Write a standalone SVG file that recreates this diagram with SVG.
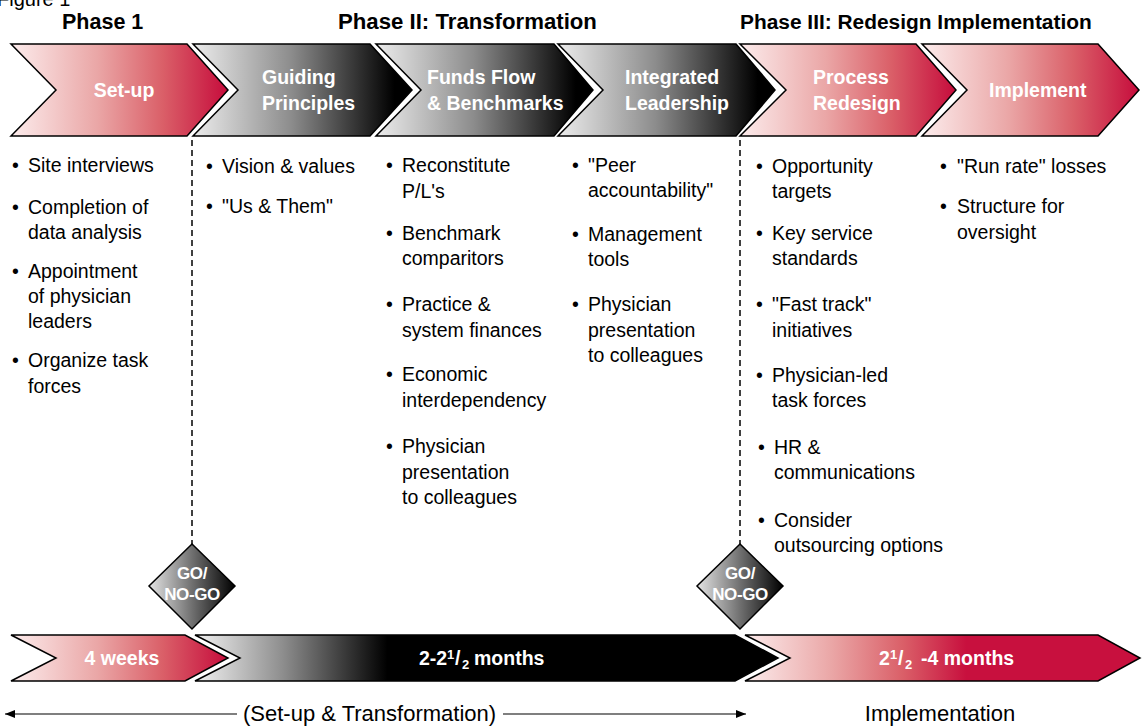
<svg xmlns="http://www.w3.org/2000/svg" width="1147" height="726" viewBox="0 0 1147 726">
  <defs>
    <linearGradient id="redFade" x1="0" y1="0" x2="1" y2="0">
      <stop offset="0" stop-color="#fcecec"/>
      <stop offset="0.4" stop-color="#eaa6a6"/>
      <stop offset="0.7" stop-color="#da5f68"/>
      <stop offset="1" stop-color="#c60c3c"/>
    </linearGradient>
    <linearGradient id="greyFade" x1="0" y1="0" x2="1" y2="0">
      <stop offset="0" stop-color="#ececec"/>
      <stop offset="0.45" stop-color="#8c8c8c"/>
      <stop offset="0.92" stop-color="#000"/>
      <stop offset="1" stop-color="#000"/>
    </linearGradient>
    <linearGradient id="diamondFade" x1="0" y1="0" x2="1" y2="0">
      <stop offset="0" stop-color="#e4e4e4"/>
      <stop offset="0.5" stop-color="#707070"/>
      <stop offset="1" stop-color="#000"/>
    </linearGradient>
    <linearGradient id="barGrey" x1="0" y1="0" x2="1" y2="0">
      <stop offset="0" stop-color="#f2f2f2"/>
      <stop offset="0.15" stop-color="#8e8e8e"/>
      <stop offset="0.33" stop-color="#000"/>
      <stop offset="1" stop-color="#000"/>
    </linearGradient>
    <linearGradient id="barRed" x1="0" y1="0" x2="1" y2="0">
      <stop offset="0" stop-color="#fcecec"/>
      <stop offset="0.22" stop-color="#eaa6a6"/>
      <stop offset="0.4" stop-color="#da5f68"/>
      <stop offset="0.56" stop-color="#c8103e"/>
      <stop offset="1" stop-color="#c8103e"/>
    </linearGradient>
    <marker id="arrowHead" viewBox="0 0 10 8" refX="10" refY="4" markerWidth="10" markerHeight="8" markerUnits="userSpaceOnUse" orient="auto-start-reverse">
      <path d="M0,0 L10,4 L0,8 Z" fill="#000"/>
    </marker>
    <style>
      .shape { stroke: #000; stroke-width: 1.5; stroke-linejoin: miter; }
      .head { font-family: "Liberation Sans", Arial, sans-serif; font-weight: bold; font-size: 21.5px; fill: #000; }
      .lbl { font-family: "Liberation Sans", Arial, sans-serif; font-weight: bold; font-size: 19.5px; fill: #fff; }
      .gate { font-family: "Liberation Sans", Arial, sans-serif; font-weight: bold; font-size: 17px; letter-spacing: -0.4px; fill: #fff; text-anchor: middle; }
      .item { font-family: "Liberation Sans", Arial, sans-serif; font-size: 19.5px; fill: #000; }
      .foot { font-family: "Liberation Sans", Arial, sans-serif; font-size: 22px; fill: #000; }
      .frac { font-size: 13px; }
      .dash { stroke: #000; stroke-width: 1.5; stroke-dasharray: 6 4; fill: none; }
      .rule { stroke: #000; stroke-width: 1.2; fill: none; }
    </style>
  </defs>

  <rect width="1147" height="726" fill="#fff"/>

  <!-- caption, clipped by the top edge -->
  <text class="foot" x="-3" y="6" style="font-size:20px">Figure 1</text>

  <!-- phase headings -->
  <g id="headings">
    <text class="head" x="62" y="29">Phase 1</text>
    <text class="head" x="338" y="29" style="font-size:22.2px">Phase II: Transformation</text>
    <text class="head" x="740" y="29" style="font-size:20.9px">Phase III: Redesign Implementation</text>
  </g>

  <!-- step chevrons -->
  <g id="step-setup">
    <polygon class="shape" fill="url(#redFade)" points="11,44 187,44 228,90 187,136 11,136 56,90"/>
    <text class="lbl" x="124" y="97" text-anchor="middle">Set-up</text>
  </g>
  <g id="step-principles">
    <polygon class="shape" fill="url(#greyFade)" points="193,44 370,44 412,90 370,136 193,136 238,90"/>
    <text class="lbl" x="262" y="84">Guiding</text>
    <text class="lbl" x="262" y="110">Principles</text>
  </g>
  <g id="step-funds">
    <polygon class="shape" fill="url(#greyFade)" points="376,44 554,44 593,90 554,136 376,136 421,90"/>
    <text class="lbl" x="427" y="84">Funds Flow</text>
    <text class="lbl" x="427" y="110">&amp; Benchmarks</text>
  </g>
  <g id="step-leadership">
    <polygon class="shape" fill="url(#greyFade)" points="558,44 736,44 775,90 736,136 558,136 603,90"/>
    <text class="lbl" x="625" y="84">Integrated</text>
    <text class="lbl" x="625" y="110">Leadership</text>
  </g>
  <g id="step-redesign">
    <polygon class="shape" fill="url(#redFade)" points="740,44 916,44 956,90 916,136 740,136 786,90"/>
    <text class="lbl" x="813" y="84">Process</text>
    <text class="lbl" x="813" y="110">Redesign</text>
  </g>
  <g id="step-implement">
    <polygon class="shape" fill="url(#redFade)" points="922,44 1098,44 1139,90 1098,136 922,136 967,90"/>
    <text class="lbl" x="989" y="97">Implement</text>
  </g>

  <!-- bullet lists under each step -->
  <g id="list-setup" class="item">
    <text x="12" y="172">•</text><text x="28" y="172">Site interviews</text>
    <text x="12" y="214">•</text><text x="28" y="214">Completion of</text>
    <text x="28" y="239">data analysis</text>
    <text x="12" y="278">•</text><text x="28" y="278">Appointment</text>
    <text x="28" y="303">of physician</text>
    <text x="28" y="328">leaders</text>
    <text x="12" y="367">•</text><text x="28" y="367">Organize task</text>
    <text x="28" y="393">forces</text>
  </g>
  <g id="list-principles" class="item">
    <text x="206" y="173">•</text><text x="222" y="173">Vision &amp; values</text>
    <text x="206" y="213">•</text><text x="222" y="213">"Us &amp; Them"</text>
  </g>
  <g id="list-funds" class="item">
    <text x="386" y="172">•</text><text x="402" y="172">Reconstitute</text>
    <text x="402" y="198">P/L's</text>
    <text x="386" y="240">•</text><text x="402" y="240">Benchmark</text>
    <text x="402" y="265">comparitors</text>
    <text x="386" y="311">•</text><text x="402" y="311">Practice &amp;</text>
    <text x="402" y="337">system finances</text>
    <text x="386" y="381">•</text><text x="402" y="381">Economic</text>
    <text x="402" y="407">interdependency</text>
    <text x="386" y="453">•</text><text x="402" y="453">Physician</text>
    <text x="402" y="479">presentation</text>
    <text x="402" y="504">to colleagues</text>
  </g>
  <g id="list-leadership" class="item">
    <text x="572" y="172">•</text><text x="588" y="172">"Peer</text>
    <text x="588" y="197">accountability"</text>
    <text x="572" y="241">•</text><text x="588" y="241">Management</text>
    <text x="588" y="266">tools</text>
    <text x="572" y="311">•</text><text x="588" y="311">Physician</text>
    <text x="588" y="337">presentation</text>
    <text x="588" y="362">to colleagues</text>
  </g>
  <g id="list-redesign" class="item">
    <text x="756" y="173">•</text><text x="772" y="173">Opportunity</text>
    <text x="772" y="198">targets</text>
    <text x="756" y="240">•</text><text x="772" y="240">Key service</text>
    <text x="772" y="265">standards</text>
    <text x="756" y="311">•</text><text x="772" y="311">"Fast track"</text>
    <text x="772" y="337">initiatives</text>
    <text x="756" y="382">•</text><text x="772" y="382">Physician-led</text>
    <text x="772" y="407">task forces</text>
    <text x="758" y="454">•</text><text x="774" y="454">HR &amp;</text>
    <text x="774" y="479">communications</text>
    <text x="758" y="527">•</text><text x="774" y="527">Consider</text>
    <text x="774" y="552">outsourcing options</text>
  </g>
  <g id="list-implement" class="item">
    <text x="940" y="173">•</text><text x="957" y="173">"Run rate" losses</text>
    <text x="940" y="213">•</text><text x="957" y="213">Structure for</text>
    <text x="957" y="239">oversight</text>
  </g>

  <!-- connectors: decision-gate guides and span arrows -->
  <g id="connectors">
    <line class="dash" x1="192" y1="140" x2="192" y2="544"/>
    <line class="dash" x1="740" y1="140" x2="740" y2="544"/>
    <line class="rule" x1="5" y1="714" x2="237" y2="714" marker-start="url(#arrowHead)"/>
    <line class="rule" x1="503" y1="714" x2="746" y2="714" marker-end="url(#arrowHead)"/>
  </g>

  <!-- decision gates -->
  <g id="gate-1">
    <polygon class="shape" fill="url(#diamondFade)" points="192,544 235,586 192,629 149,586"/>
    <text class="gate" x="192" y="579">GO/</text>
    <text class="gate" x="192" y="600">NO-GO</text>
  </g>
  <g id="gate-2">
    <polygon class="shape" fill="url(#diamondFade)" points="740,544 783,586 740,629 697,586"/>
    <text class="gate" x="740" y="579">GO/</text>
    <text class="gate" x="740" y="600">NO-GO</text>
  </g>

  <!-- duration bar -->
  <g id="span-weeks">
    <polygon class="shape" fill="url(#redFade)" points="11,635 185,635 228,658 185,681 11,681 56,658"/>
    <text class="lbl" x="122" y="665" text-anchor="middle">4 weeks</text>
  </g>
  <g id="span-transform">
    <polygon class="shape" fill="url(#barGrey)" points="195,635 735,635 778,658 735,681 195,681 240,658"/>
    <text class="lbl" x="419" y="665">2-2</text>
    <text class="lbl frac" x="447" y="659">1</text>
    <text class="lbl" x="455" y="665">/</text>
    <text class="lbl frac" x="462" y="669">2</text>
    <text class="lbl" x="474" y="665">months</text>
  </g>
  <g id="span-implement">
    <polygon class="shape" fill="url(#barRed)" points="745,635 1098,635 1140,658 1098,681 745,681 790,658"/>
    <text class="lbl" x="879" y="665">2</text>
    <text class="lbl frac" x="890" y="659">1</text>
    <text class="lbl" x="898" y="665">/</text>
    <text class="lbl frac" x="905" y="669">2</text>
    <text class="lbl" x="921" y="665">-4 months</text>
  </g>

  <!-- bottom captions -->
  <g id="captions">
    <text class="foot" x="243" y="721">(Set-up &amp; Transformation)</text>
    <text class="foot" x="940" y="721" text-anchor="middle">Implementation</text>
  </g>
</svg>
